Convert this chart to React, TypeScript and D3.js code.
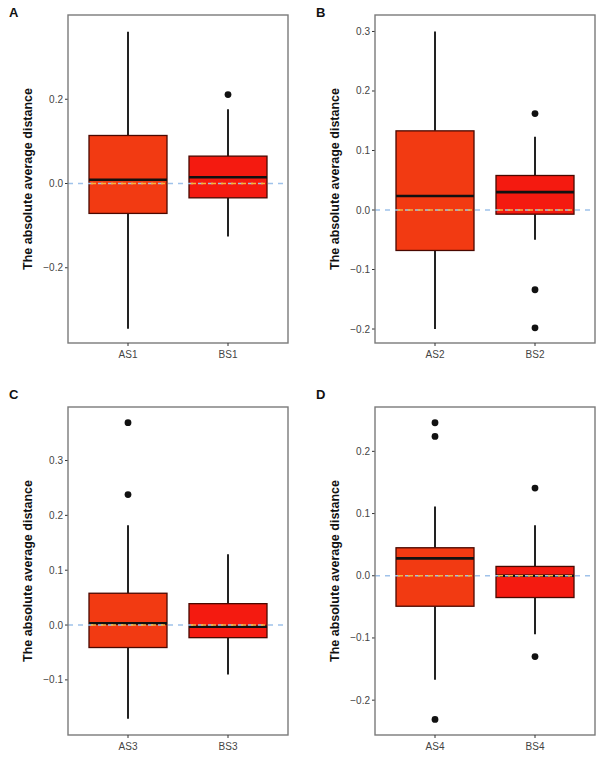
import React from "react";
import * as d3 from "d3";

// Box statistics per panel: [lower whisker, Q1, median, Q3, upper whisker]
const panelLetters = ["A", "B", "C", "D"];
const categoriesA = ["AS1", "BS1"];
const categoriesB = ["AS2", "BS2"];
const categoriesC = ["AS3", "BS3"];
const categoriesD = ["AS4", "BS4"];

const statsA = [
  [-0.345, -0.071, 0.009, 0.114, 0.36],
  [-0.126, -0.034, 0.015, 0.065, 0.176],
];
const statsB = [
  [-0.2, -0.068, 0.0235, 0.133, 0.3],
  [-0.05, -0.007, 0.03, 0.058, 0.123],
];
const statsC = [
  [-0.171, -0.041, 0.003, 0.058, 0.182],
  [-0.09, -0.023, -0.003, 0.039, 0.129],
];
const statsD = [
  [-0.167, -0.049, 0.028, 0.045, 0.1115],
  [-0.094, -0.035, 0.0, 0.015, 0.081],
];

const outliersA = [[], [0.211]];
const outliersB = [[], [0.162, -0.134, -0.198]];
const outliersC = [[0.369, 0.238], []];
const outliersD = [[0.246, 0.224, -0.231], [0.141, -0.13]];

const ticksA = [-0.2, 0, 0.2];
const ticksB = [-0.2, -0.1, 0, 0.1, 0.2, 0.3];
const ticksC = [-0.1, 0, 0.1, 0.2, 0.3];
const ticksD = [-0.2, -0.1, 0, 0.1, 0.2];

const domainA = [-0.3786, 0.4];
const domainB = [-0.2235, 0.3277];
const domainC = [-0.2005, 0.3976];
const domainD = [-0.256, 0.2713];

const fills = ["#f23a12", "#f41a10"];
const yTitle = "The absolute average distance";

type PanelProps = {
  letter: string;
  x0: number;
  y0: number;
  letterY: number;
  cats: string[];
  stats: number[][];
  outliers: number[][];
  ticks: number[];
  domain: number[];
};

function Panel({ letter, x0, y0, letterY, cats, stats, outliers, ticks, domain }: PanelProps) {
  const left = x0 + 68;
  const right = x0 + 288;
  const top = y0 + 15;
  const bottom = y0 + 343;
  const y = d3.scaleLinear().domain(domain).range([bottom, top]);
  const x = d3.scalePoint<string>().domain(cats).range([left, right]).padding(0.6);
  const step = x.step();
  const boxW = step * 0.78;
  const fmt = d3.format(".1f");
  const y0v = y(0);

  return (
    <g>
      <text x={x0 + 9} y={letterY} fontSize={13} fontWeight="bold" fill="#111">
        {letter}
      </text>
      <text
        transform={`translate(${x0 + 31.5},${(top + bottom) / 2}) rotate(-90)`}
        textAnchor="middle"
        fontSize={12.5}
        fontWeight="bold"
        fill="#111"
      >
        {yTitle}
      </text>
      {/* y axis ticks */}
      {ticks.map((t) => (
        <g key={t}>
          <line x1={left - 3} x2={left} y1={y(t)} y2={y(t)} stroke="#333" strokeWidth={1} />
          <text x={left - 5} y={y(t)} dy="0.35em" textAnchor="end" fontSize={10} fill="#444">
            {fmt(t)}
          </text>
        </g>
      ))}
      {/* boxes */}
      {cats.map((c, i) => {
        const [lo, q1, med, q3, hi] = stats[i];
        const cx = x(c)!;
        return (
          <g key={c}>
            <line x1={cx} x2={cx} y1={y(hi)} y2={y(q3)} stroke="#222" strokeWidth={2} />
            <line x1={cx} x2={cx} y1={y(q1)} y2={y(lo)} stroke="#222" strokeWidth={2} />
            <rect
              x={cx - boxW / 2}
              y={y(q3)}
              width={boxW}
              height={y(q1) - y(q3)}
              fill={fills[i]}
              stroke="#4a0800"
              strokeWidth={1.3}
            />
            <line
              x1={cx - boxW / 2}
              x2={cx + boxW / 2}
              y1={y(med)}
              y2={y(med)}
              stroke="#111"
              strokeWidth={2.6}
            />
            {outliers[i].map((o, k) => (
              <circle key={k} cx={cx} cy={y(o)} r={3.4} fill="#111" />
            ))}
          </g>
        );
      })}
      {/* zero reference line */}
      <line
        x1={left}
        x2={right}
        y1={y0v}
        y2={y0v}
        stroke="#9fc2ea"
        strokeWidth={1.5}
        strokeDasharray="5,5"
      />
      {cats.map((c) => {
        const cx = x(c)!;
        return (
          <line
            key={c}
            x1={cx - boxW / 2 + 2}
            x2={cx + boxW / 2 - 2}
            y1={y0v}
            y2={y0v}
            stroke="#f6b43a"
            strokeWidth={1.6}
            strokeDasharray="5,5"
          />
        );
      })}
      {/* frame */}
      <rect x={left} y={top} width={right - left} height={bottom - top} fill="none" stroke="#7a7a7a" strokeWidth={1.4} />
      {/* x axis */}
      {cats.map((c) => (
        <g key={c}>
          <line x1={x(c)!} x2={x(c)!} y1={bottom} y2={bottom + 3} stroke="#333" strokeWidth={1} />
          <text x={x(c)!} y={bottom + 15} textAnchor="middle" fontSize={10} fill="#444">
            {c}
          </text>
        </g>
      ))}
    </g>
  );
}

export default function App() {
  return (
    <svg
      width={614}
      height={758}
      style={{ position: "absolute", left: 0, top: 0, background: "#fff" }}
      fontFamily="'Liberation Sans', Arial, sans-serif"
    >
      <rect width={614} height={758} fill="#fff" />
      <Panel letter={panelLetters[0]} x0={0} y0={0} letterY={17} cats={categoriesA} stats={statsA} outliers={outliersA} ticks={ticksA} domain={domainA} />
      <Panel letter={panelLetters[1]} x0={307} y0={0} letterY={17} cats={categoriesB} stats={statsB} outliers={outliersB} ticks={ticksB} domain={domainB} />
      <Panel letter={panelLetters[2]} x0={0} y0={392} letterY={399} cats={categoriesC} stats={statsC} outliers={outliersC} ticks={ticksC} domain={domainC} />
      <Panel letter={panelLetters[3]} x0={307} y0={392} letterY={399} cats={categoriesD} stats={statsD} outliers={outliersD} ticks={ticksD} domain={domainD} />
    </svg>
  );
}
